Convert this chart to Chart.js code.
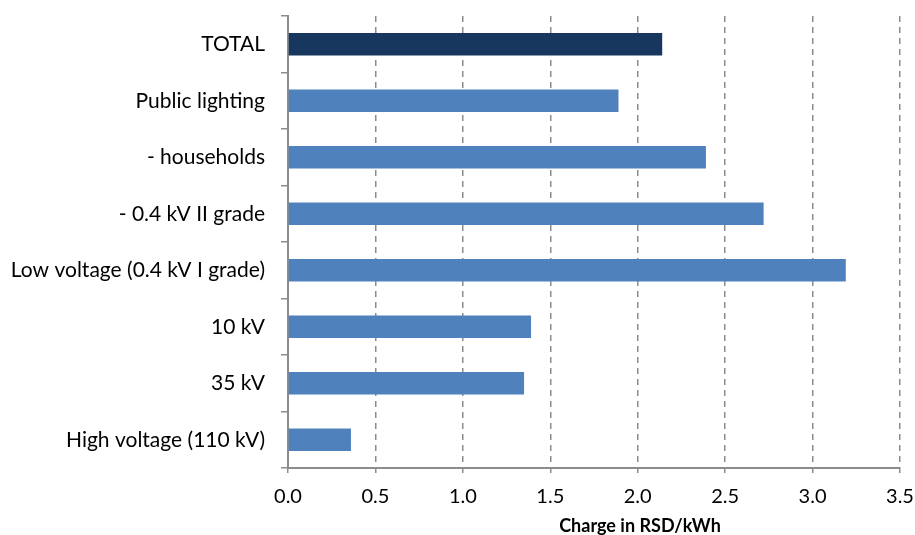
<!DOCTYPE html>
<html>
<head>
<meta charset="utf-8">
<script src="https://cdn.jsdelivr.net/npm/chart.js@4"></script>
<style>
  html, body { margin: 0; padding: 0; background: #fff; }
  #wrap { width: 915px; height: 535px; }
</style>
</head>
<body>
<div id="wrap"><canvas id="c" width="915" height="535"></canvas></div>
<script>
// Network charge by voltage level (RSD/kWh)
const categories = [
  'TOTAL',
  'Public lighting',
  '- households',
  '- 0.4 kV II grade',
  'Low voltage (0.4 kV I grade)',
  '10 kV',
  '35 kV',
  'High voltage (110 kV)'
];
const charges = [2.14, 1.89, 2.39, 2.72, 3.19, 1.39, 1.35, 0.36];
const xTicks = [0, 0.5, 1.0, 1.5, 2.0, 2.5, 3.0, 3.5];
const axisTitle = 'Charge in RSD/kWh';

const barColors = categories.map(c => c === 'TOTAL' ? '#17375E' : '#4F81BD');
const FONT = 'Lato, "Open Sans", sans-serif';

// Axis title drawn below the tick labels
const axisTitlePlugin = {
  id: 'axisTitle',
  afterDraw(chart) {
    const {ctx, chartArea} = chart;
    ctx.save();
    ctx.font = 'bold 18px ' + FONT;
    ctx.fillStyle = '#000';
    ctx.textAlign = 'center';
    ctx.textBaseline = 'middle';
    const cx = (chartArea.left + chartArea.right) / 2 + 46;
    ctx.fillText(axisTitle, cx, 526);
    ctx.restore();
  }
};

new Chart(document.getElementById('c'), {
  type: 'bar',
  data: {
    labels: categories,
    datasets: [{
      data: charges,
      backgroundColor: barColors,
      borderWidth: 0,
      barPercentage: 0.4,
      categoryPercentage: 1.0
    }]
  },
  options: {
    indexAxis: 'y',
    responsive: false,
    animation: false,
    devicePixelRatio: 1,
    layout: { padding: { top: 16, right: 15, left: 0, bottom: 0 } },
    plugins: {
      legend: { display: false },
      tooltip: { enabled: false }
    },
    scales: {
      x: {
        type: 'linear',
        min: 0,
        max: 3.5,
        afterBuildTicks(scale) {
          scale.ticks = xTicks.map(v => ({ value: v }));
        },
        afterFit(scale) {
          scale.height = 67;
          scale.paddingLeft = 0;
          scale.paddingRight = 0;
        },
        ticks: {
          font: { family: FONT, size: 20 },
          color: '#000',
          padding: 12,
          callback: v => Number(v).toFixed(1)
        },
        grid: {
          color: '#8c8c8c',
          lineWidth: 1.5,
          tickLength: 5,
          tickColor: '#8c8c8c',
          tickBorderDash: []
        },
        border: { display: true, color: '#8c8c8c', width: 2, dash: [6, 5] }
      },
      y: {
        afterFit(scale) {
          scale.width = 288;
          scale.paddingTop = 0;
          scale.paddingBottom = 0;
        },
        ticks: {
          font: { family: FONT, size: 21 },
          color: '#000',
          padding: 16
        },
        grid: {
          offset: true,
          drawOnChartArea: false,
          drawTicks: true,
          tickLength: 7,
          color: '#8c8c8c',
          lineWidth: 1.5
        },
        border: { display: true, color: '#8c8c8c', width: 2 }
      }
    }
  },
  plugins: [axisTitlePlugin]
});
</script>
</body>
</html>
